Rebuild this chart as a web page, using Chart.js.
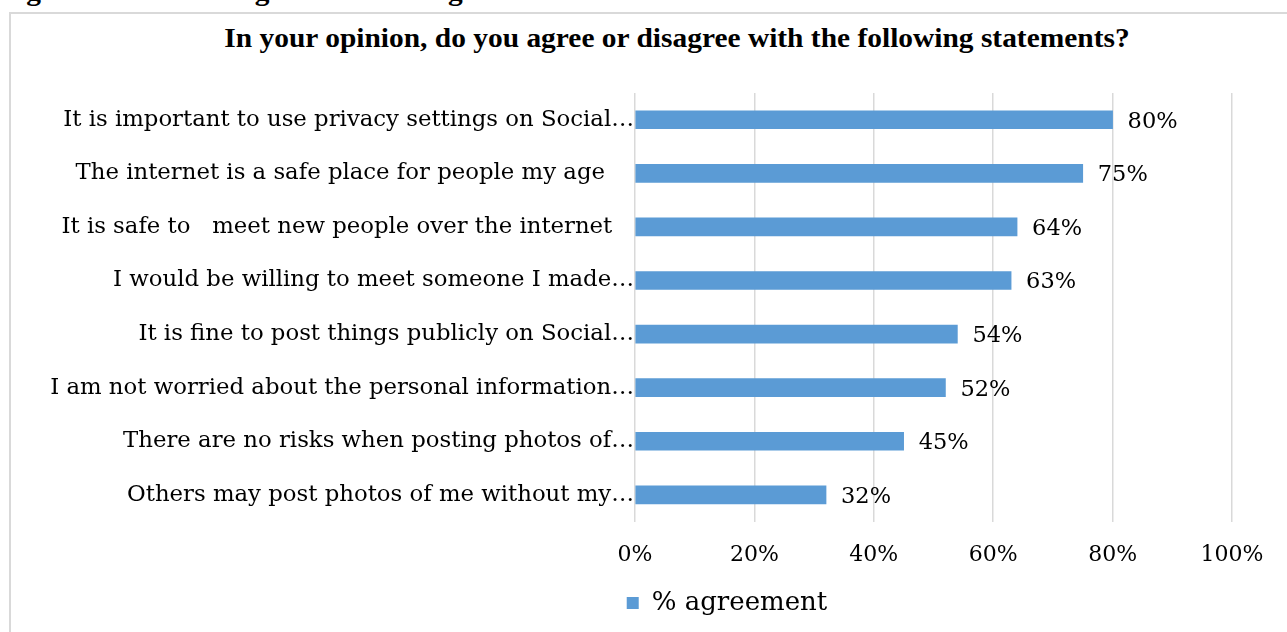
<!DOCTYPE html>
<html>
<head>
<meta charset="utf-8">
<script src="https://cdn.jsdelivr.net/npm/chart.js@4/dist/chart.umd.min.js"></script>
<style>
  html, body { margin: 0; padding: 0; background: #fff; overflow: hidden; }
  body { width: 1287px; height: 632px; position: relative; }
  #caption {
    position: absolute; left: 0; top: -22px; white-space: nowrap;
    font: bold 27px/27px "Liberation Serif", serif; color: #000;
    transform: scaleX(1.09); transform-origin: left top;
  }
  #frame {
    position: absolute; left: 9px; top: 12px; width: 1300px; height: 640px;
    border: 2px solid #d9d9d9; box-sizing: border-box;
  }
  #title {
    position: absolute; left: 177px; width: 1000px; top: 25px; text-align: center;
    white-space: nowrap;
    font: bold 27px/27px "Liberation Serif", serif; color: #000;
    transform: scaleX(1.09); transform-origin: center top;
  }
  #wrap { position: absolute; left: 0; top: 0; width: 1287px; height: 632px; }
</style>
</head>
<body>
<div id="caption">Figure 29 : Percentage of children agreement scores on online risks</div>
<div id="frame"></div>
<div id="title">In your opinion, do you agree or disagree with the following statements?</div>
<div id="wrap"><canvas id="chart" width="1287" height="632"></canvas></div>
<script>
// Survey statements (as shown on the category axis) and agreement shares in percent
const statements = [
  "It is important to use privacy settings on Social\u2026",
  "The internet is a safe place for people my age    ",
  "It is safe to   meet new people over the internet   ",
  "I would be willing to meet someone I made\u2026",
  "It is fine to post things publicly on Social\u2026",
  "I am not worried about the personal information\u2026",
  "There are no risks when posting photos of\u2026",
  "Others may post photos of me without my\u2026"
];
const agreement = [80, 75, 64, 63, 54, 52, 45, 32];
const seriesName = "% agreement";
const axisTicks = [0, 20, 40, 60, 80, 100];

const serif = "'DejaVu Serif', serif";

// Writes each bar's value just past its end
const valueLabels = {
  id: 'valueLabels',
  afterDatasetsDraw(chart) {
    const ctx = chart.ctx;
    const meta = chart.getDatasetMeta(0);
    ctx.save();
    ctx.font = "22.5px " + serif;
    ctx.fillStyle = "#000";
    ctx.textAlign = "left";
    ctx.textBaseline = "middle";
    meta.data.forEach((bar, i) => {
      ctx.fillText(agreement[i] + "%", bar.x + 15, bar.y + 2);
    });
    ctx.restore();
  }
};

// Moves the legend so it sits centred under the value axis
const legendShift = {
  id: 'legendShift',
  afterLayout(chart) {
    const lg = chart.legend;
    if (!lg) return;
    const dx = 727 - (lg.left + lg.right) / 2;
    lg.left += dx;
    lg.right += dx;
  }
};

new Chart(document.getElementById('chart'), {
  type: 'bar',
  data: {
    labels: statements,
    datasets: [{
      label: seriesName,
      data: agreement,
      backgroundColor: '#5b9bd5',
      borderWidth: 0,
      barThickness: 18
    }]
  },
  options: {
    indexAxis: 'y',
    responsive: false,
    animation: false,
    layout: { padding: { left: 10, right: 55, top: 93, bottom: 6 } },
    plugins: {
      legend: {
        position: 'bottom',
        labels: {
          font: { family: serif, size: 26 },
          color: '#000',
          boxWidth: 12,
          boxHeight: 12,
          padding: 10
        }
      },
      tooltip: { enabled: false },
      title: { display: false }
    },
    scales: {
      x: {
        min: 0, max: 100,
        afterBuildTicks(scale) { scale.ticks = axisTicks.map(v => ({ value: v })); },
        afterFit(scale) { scale.height -= 8; },
        grid: { color: '#d9d9d9', lineWidth: 1.5, drawTicks: false },
        border: { display: false },
        ticks: {
          font: { family: serif, size: 22 },
          color: '#000',
          padding: 20,
          maxRotation: 0,
          callback: v => v + '%'
        }
      },
      y: {
        grid: { display: false },
        border: { display: false },
        afterFit(scale) { scale.width = 625; },
        ticks: {
          font: { family: serif, size: 22.8 },
          color: '#000',
          padding: -7,
          autoSkip: false
        }
      }
    }
  },
  plugins: [valueLabels, legendShift]
});
</script>
</body>
</html>
